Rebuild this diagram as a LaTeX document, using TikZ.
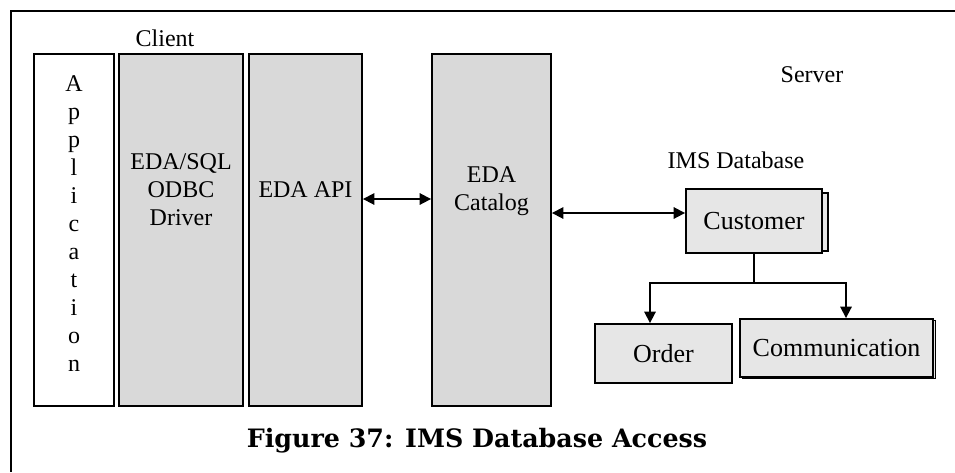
\documentclass[tikz,border=0pt]{standalone}
\usepackage{fontspec}
\setmainfont{Liberation Serif}
\newfontfamily\capfont{DejaVu Serif}
\usetikzlibrary{positioning,calc,arrows.meta}
\definecolor{layergray}{RGB}{217,217,217}
\definecolor{tablegray}{RGB}{230,230,230}

\begin{document}
\begin{tikzpicture}[x=0.75pt,y=-0.75pt,
  every node/.style={font=\fontsize{18}{21}\selectfont},
  layer/.style={draw, rectangle, line width=1.4pt, fill=layergray, minimum height=264pt, inner sep=0pt},
  segment/.style={draw, rectangle, line width=1.4pt, fill=tablegray, inner sep=0pt, font=\fontsize{19.5}{21}\selectfont},
  biarrow/.style={line width=1.3pt, {Triangle[length=8.5pt,width=8.5pt]}-{Triangle[length=8.5pt,width=8.5pt]}},
  downarrow/.style={line width=1.3pt, -{Triangle[length=8.5pt,width=8.5pt]}}]
\useasboundingbox (0,0) rectangle (955,472);
\draw[line width=2.2pt] (955,11) -- (11,11) -- (11,472);

% client side layers
\node[layer, fill=white, minimum width=60pt] (app) at (74,230) {};
\node[align=center, inner sep=0pt] (apptxt) at (74,224) {A\\p\\p\\l\\i\\c\\a\\t\\i\\o\\n};
\node[layer, minimum width=93pt] (odbc) at (181,230) {};
\node[align=center] (odbctxt) at (181,190) {EDA/SQL\\ODBC\\Driver};
\node[layer, minimum width=84.75pt] (api) at (305.5,230) {};
\node (apitxt) at (305.5,190) {EDA API};
\node (client) at (165,38) {Client};

% server side
\node[layer, minimum width=89.25pt] (catalog) at (491.5,230) {};
\node[align=center] (cattxt) at (491.5,191) {EDA\\Catalog};
\node (server) at (812,75) {Server};
\node (imsdb) at (736,160) {IMS Database};

\node[segment, minimum width=96pt, minimum height=43.5pt] (custback) at (764,222) {};
\node[segment, minimum width=102pt, minimum height=48pt] (cust) at (754,221) {Customer};
\node[segment, minimum width=102.75pt, minimum height=44.25pt] (orderbox) at (663.5,353.5) {Order};
\node[segment, minimum width=144.75pt, minimum height=43.5pt] (commback) at (839,349.5) {};
\node[segment, minimum width=144.75pt, minimum height=43.5pt] (comm) at (836.5,348) {Communication};

% connectors
\coordinate (apilink) at ($(api.east)+(0,-31)$);
\draw[biarrow] (apilink) -- (apilink -| catalog.west);
\coordinate (custlink) at ($(cust.west)+(0,-8)$);
\draw[biarrow] (custlink -| catalog.east) -- (custlink);
\draw[line width=1.3pt] (cust.south) -- ++(0,29) coordinate (split);
\draw[downarrow] (split) -| ($(orderbox.north)+(-13.5,0)$);
\draw[downarrow] (split) -| ($(comm.north)+(9.5,0)$);

\node[font=\capfont\bfseries\fontsize{19}{21}\selectfont] (caption) at (477,441) {Figure 37: IMS Database Access};
\end{tikzpicture}
\end{document}
